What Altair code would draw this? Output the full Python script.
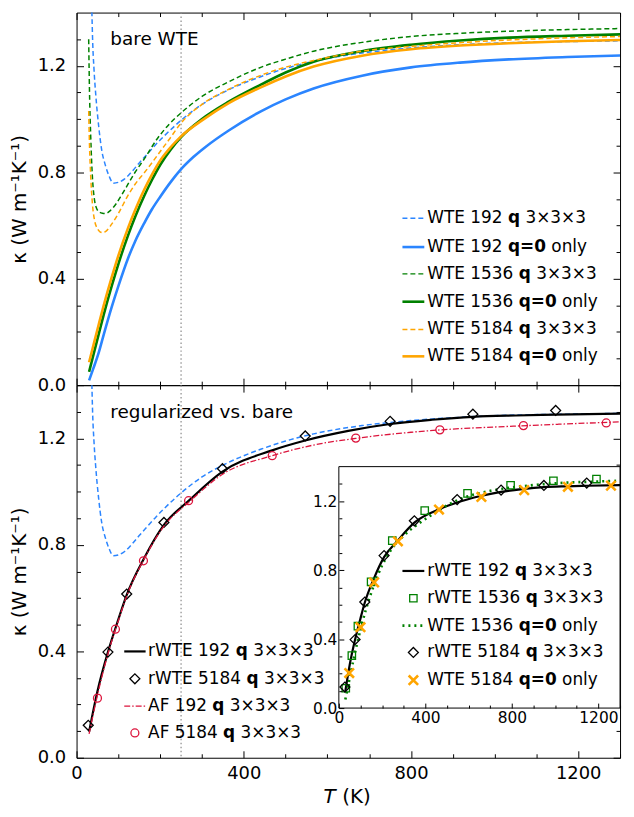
import altair as alt
import pandas as pd

# ---------------- data ----------------
# top panel: bare WTE
T_WTE192_Q = [30, 32, 35, 38, 42, 46, 53, 60, 69, 78, 88, 100, 115, 131, 150, 170, 190, 210, 250, 300,
              364, 442, 500, 567, 683, 800, 917, 1034, 1174, 1300]
K_WTE192_Q = [2.60, 2.00, 1.55, 1.32, 1.18, 1.09, 0.972, 0.885, 0.826, 0.785, 0.759, 0.762, 0.775, 0.800,
              0.835, 0.870, 0.905, 0.937, 0.995, 1.055, 1.110, 1.160, 1.190, 1.217, 1.248, 1.267, 1.279,
              1.287, 1.291, 1.294]
T_WTE192_0 = [30, 40, 53, 65, 84, 100, 123, 140, 162, 180, 201, 225, 248, 280, 310, 364, 442, 500, 567,
              683, 800, 917, 1034, 1174, 1300]
K_WTE192_0 = [0.018, 0.062, 0.122, 0.190, 0.293, 0.372, 0.476, 0.540, 0.609, 0.660, 0.710, 0.763, 0.808,
              0.858, 0.897, 0.957, 1.030, 1.074, 1.115, 1.163, 1.194, 1.212, 1.224, 1.233, 1.239]
T_WTE1536_Q = [29, 31, 34, 38, 42, 48, 55, 62, 69, 80, 92, 107, 123, 140, 162, 193, 220, 250, 300, 364,
               442, 500, 567, 683, 800, 917, 1034, 1174, 1300]
K_WTE1536_Q = [1.30, 1.10, 0.93, 0.78, 0.707, 0.664, 0.650, 0.646, 0.645, 0.655, 0.676, 0.712, 0.755,
               0.800, 0.850, 0.926, 0.978, 1.023, 1.085, 1.140, 1.195, 1.225, 1.255, 1.288, 1.310, 1.322,
               1.330, 1.336, 1.340]
T_WTE1536_0 = [30, 40, 53, 65, 84, 100, 123, 140, 162, 180, 201, 225, 250, 300, 364, 442, 500, 567, 683,
               800, 917, 1034, 1174, 1300]
K_WTE1536_0 = [0.050, 0.112, 0.192, 0.265, 0.372, 0.455, 0.562, 0.632, 0.712, 0.770, 0.830, 0.885, 0.932,
               1.000, 1.065, 1.130, 1.175, 1.215, 1.255, 1.279, 1.295, 1.306, 1.313, 1.318]
T_WTE5184_Q = [29, 31, 34, 38, 43, 50, 56, 62, 70, 84, 100, 123, 140, 162, 180, 201, 220, 250, 300, 364,
               442, 500, 567, 683, 800, 917, 1034, 1174, 1300]
K_WTE5184_Q = [1.03, 0.90, 0.78, 0.68, 0.62, 0.588, 0.576, 0.573, 0.578, 0.605, 0.645, 0.713, 0.755,
               0.798, 0.835, 0.880, 0.920, 0.985, 1.055, 1.112, 1.165, 1.195, 1.220, 1.255, 1.273, 1.287,
               1.297, 1.305, 1.310]
T_WTE5184_0 = [30, 40, 53, 65, 84, 100, 123, 140, 162, 180, 201, 225, 250, 300, 364, 442, 500, 567, 683,
               800, 917, 1034, 1174, 1300]
K_WTE5184_0 = [0.086, 0.148, 0.228, 0.300, 0.405, 0.487, 0.590, 0.657, 0.735, 0.790, 0.846, 0.894, 0.935,
               0.995, 1.060, 1.120, 1.160, 1.197, 1.238, 1.262, 1.276, 1.285, 1.292, 1.297]

# bottom panel: regularized vs bare
T_RWTE192 = [30, 50, 75, 100, 120, 160, 209, 270, 349, 468, 547, 650, 750, 850, 948, 1050, 1146, 1300]
K_RWTE192 = [0.098, 0.250, 0.397, 0.520, 0.612, 0.745, 0.875, 0.968, 1.075, 1.155, 1.192, 1.228, 1.254,
             1.270, 1.281, 1.286, 1.289, 1.293]
T_AF192 = [30, 50, 75, 100, 120, 160, 209, 270, 349, 468, 567, 668, 800, 900, 1034, 1150, 1300]
K_AF192 = [0.090, 0.235, 0.390, 0.515, 0.608, 0.742, 0.870, 0.962, 1.065, 1.135, 1.175, 1.200, 1.223,
           1.235, 1.245, 1.253, 1.262]
T_RWTE5184 = [28, 75, 120, 209, 349, 547, 750, 948, 1146]
K_RWTE5184 = [0.122, 0.397, 0.615, 0.884, 1.086, 1.209, 1.264, 1.291, 1.305]
T_AF5184 = [50, 93, 160, 268, 468, 668, 869, 1069, 1267]
K_AF5184 = [0.224, 0.483, 0.740, 0.966, 1.135, 1.201, 1.232, 1.248, 1.258]

# inset
T_RWTE1536 = [32, 60, 88, 149, 247, 397, 595, 794, 992, 1191]
K_RWTE1536 = [0.115, 0.304, 0.475, 0.732, 0.971, 1.145, 1.245, 1.292, 1.318, 1.328]
T_WTE5184_0_PTS = [48, 100, 163, 273, 463, 659, 857, 1059, 1258]
K_WTE5184_0_PTS = [0.203, 0.469, 0.729, 0.967, 1.151, 1.224, 1.264, 1.283, 1.290]

T_MARK = [250]

X_MAJOR = [0, 400, 800, 1200]
X_MINOR = [100, 200, 300, 500, 600, 700, 900, 1000, 1100, 1300]
Y_MAJOR = [0, 0.4, 0.8, 1.2]
Y_MINOR = [0.1, 0.2, 0.3, 0.5, 0.6, 0.7, 0.9, 1.0, 1.1, 1.3]

TOP_LEGEND = [("WTE 192", "q", "3×3×3"), ("WTE 192", "q=0", "only"),
              ("WTE 1536", "q", "3×3×3"), ("WTE 1536", "q=0", "only"),
              ("WTE 5184", "q", "3×3×3"), ("WTE 5184", "q=0", "only")]
BL_LEGEND = [("rWTE 192", "q", "3×3×3"), ("rWTE 5184", "q", "3×3×3"),
             ("AF 192", "q", "3×3×3"), ("AF 5184", "q", "3×3×3")]
IN_LEGEND = [("rWTE 192", "q", "3×3×3"), ("rWTE 1536", "q", "3×3×3"),
             ("WTE 1536", "q=0", "only"), ("rWTE 5184", "q", "3×3×3"),
             ("WTE 5184", "q=0", "only")]
Y_TITLE = "κ (W m⁻¹K⁻¹)"

# ---------------- layout / style ----------------
W, H = 547, 375
FONT = "DejaVu Sans"
BLUE, GREEN, ORANGE, RED = "#2b85ff", "#008000", "#ffa500", "#dc143c"
XDOM, YDOM = [0, 1300], [0, 1.4]
IN_X0, IN_Y0, IN_Y1 = 264, 82, 325
DASH = [5, 3]
XSHAPE = "M-1,-1L1,1M-1,1L1,-1"

REG = {' ': .318, '(': .390, ')': .390, '.': .318, '×': .838, '=': .838, 'A': .684, 'E': .632,
       'F': .575, 'K': .656, 'T': .611, 'W': .989, 'a': .613, 'b': .635, 'd': .635, 'e': .615,
       'g': .635, 'i': .278, 'l': .278, 'm': .974, 'n': .634, 'o': .612, 'q': .635, 'r': .411,
       's': .521, 'u': .634, 'v': .592, 'y': .592, 'z': .525}
BOLD = {' ': .348, 'q': .716, '0': .696, '=': .838}


def tw(s, table):
    return sum(table.get(c, 0.636) for c in s)


def sc(dom, rng=None):
    kw = dict(domain=dom, nice=False, zero=False)
    if rng is not None:
        kw["range"] = rng
    return alt.Scale(**kw)


MX, MY = sc(XDOM), sc(YDOM)
IX, IY = sc(XDOM, [IN_X0, W]), sc(YDOM, [IN_Y1, IN_Y0])
ONE = pd.DataFrame({"o": [0]})


def axis(orient, values, size, shift=0, labels=False, zindex=0, **kw):
    p = dict(orient=orient, values=values, tickSize=size, offset=-(size + shift), domain=False,
             grid=False, ticks=True, labels=labels, tickColor="black", tickWidth=1, title=None,
             zindex=zindex)
    if labels:
        p.update(labelFont=FONT, labelColor="black", labelFlush=False, labelOverlap=False)
    p.update(kw)
    return alt.Axis(**p)


def carrier(ax_x, ax_y, xs, ys):
    return alt.Chart(pd.DataFrame({"T": [XDOM[0]], "k": [YDOM[0]]})).mark_point(opacity=0).encode(
        x=alt.X("T:Q", scale=xs, axis=ax_x), y=alt.Y("k:Q", scale=ys, axis=ax_y))


def main_axes(xlabels):
    bx = dict(labelFontSize=18, labelPadding=7, format="d") if xlabels else {}
    pairs = [
        (axis("bottom", X_MAJOR, 7, labels=xlabels, **bx),
         axis("left", Y_MAJOR, 7, labels=True, labelFontSize=18, labelPadding=11, format=".1f",
              title=Y_TITLE, titleFont=FONT, titleFontSize=20, titleFontWeight="normal",
              titleColor="black", titlePadding=8)),
        (axis("bottom", X_MINOR, 4), axis("left", Y_MINOR, 4)),
        (axis("top", X_MAJOR, 7), axis("right", Y_MAJOR, 7)),
        (axis("top", X_MINOR, 4), axis("right", Y_MINOR, 4)),
    ]
    return [carrier(a, b, MX, MY) for a, b in pairs]


def inset_axes():
    sh = H - IN_Y1
    pairs = [
        (axis("bottom", X_MAJOR, 5, shift=sh, labels=True, zindex=1, labelFontSize=15.5,
              labelPadding=3, format="d"),
         axis("left", Y_MAJOR, 5, shift=IN_X0, labels=True, zindex=1, labelFontSize=15.5,
              labelPadding=2, format=".1f")),
        (axis("bottom", X_MINOR, 3, shift=sh, zindex=1),
         axis("left", Y_MINOR, 3, shift=IN_X0, zindex=1)),
    ]
    return [carrier(a, b, IX, IY) for a, b in pairs]


def curve(T, K, color, width, xs, ys, dash=None, clip=True):
    kw = dict(color=color, strokeWidth=width, clip=clip, interpolate="monotone")
    if dash:
        kw["strokeDash"] = dash
    return alt.Chart(pd.DataFrame({"T": T, "k": K})).mark_line(**kw).encode(
        x=alt.X("T:Q", scale=xs, axis=None), y=alt.Y("k:Q", scale=ys, axis=None))


def pts(T, K, shape, color, size, sw, xs, ys):
    return alt.Chart(pd.DataFrame({"T": T, "k": K})).mark_point(
        shape=shape, color=color, size=size, strokeWidth=sw, filled=False, opacity=1).encode(
        x=alt.X("T:Q", scale=xs, axis=None), y=alt.Y("k:Q", scale=ys, axis=None))


def vline(xs):
    return alt.Chart(pd.DataFrame({"T": T_MARK})).mark_rule(
        color="#8a8a8a", strokeWidth=1.2, strokeDash=[1.5, 2.5]).encode(
        x=alt.X("T:Q", scale=xs, axis=None))


def h_line(x0, x1, y, color, width, dash=None):
    kw = dict(color=color, strokeWidth=width)
    if dash:
        kw["strokeDash"] = dash
    return alt.Chart(ONE).mark_rule(**kw).encode(x=alt.value(x0), x2=alt.value(x1), y=alt.value(y))


def h_pt(x, y, shape, color, size, sw):
    return alt.Chart(ONE).mark_point(shape=shape, color=color, size=size, strokeWidth=sw,
                                     filled=False, opacity=1).encode(x=alt.value(x), y=alt.value(y))


def label(x, y, txt, fs, style="normal", align="left"):
    return alt.Chart(ONE).mark_text(text=txt, font=FONT, fontSize=fs, fontStyle=style, color="black",
                                    align=align, baseline="middle").encode(x=alt.value(x), y=alt.value(y))


def legend_text(entries, x0, ys, fs):
    rn, rb = [], []
    for (a, b, c), y in zip(entries, ys):
        x = x0
        rn.append({"px": x, "py": y, "t": a})
        x += (tw(a, REG) + REG[' ']) * fs
        rb.append({"px": x, "py": y, "t": b})
        x += (tw(b, BOLD) + REG[' ']) * fs
        rn.append({"px": x, "py": y, "t": c})
    out = []
    for rows, wt in ((rn, "normal"), (rb, "bold")):
        out.append(alt.Chart(pd.DataFrame(rows)).mark_text(
            align="left", baseline="middle", font=FONT, fontSize=fs, fontWeight=wt, color="black").encode(
            x=alt.X("px:Q", scale=None, axis=None), y=alt.Y("py:Q", scale=None, axis=None), text="t:N"))
    return out


LFS = 17

# ---------------- top panel ----------------
top_leg_y = [207, 236, 263, 291, 319, 346]
top_styles = [(BLUE, 1.5, DASH), (BLUE, 2.6, None), (GREEN, 1.5, DASH), (GREEN, 2.6, None),
              (ORANGE, 1.5, DASH), (ORANGE, 2.6, None)]
top_layers = [vline(MX)]
for (T, K), (c, w, d) in zip([(T_WTE192_Q, K_WTE192_Q), (T_WTE192_0, K_WTE192_0),
                              (T_WTE1536_Q, K_WTE1536_Q), (T_WTE1536_0, K_WTE1536_0),
                              (T_WTE5184_Q, K_WTE5184_Q), (T_WTE5184_0, K_WTE5184_0)], top_styles):
    top_layers.append(curve(T, K, c, w, MX, MY, d))
top_layers += main_axes(False)
top_layers.append(label(34, 27, "bare WTE", 18.5))
for y, (c, w, d) in zip(top_leg_y, top_styles):
    top_layers.append(h_line(328, 350, y, c, w, d))
top_layers += legend_text(TOP_LEGEND, 353, top_leg_y, LFS)

top = alt.layer(*top_layers).resolve_axis(x="independent", y="independent").properties(width=W, height=H)

# ---------------- bottom panel (main) ----------------
bl_y = [268, 295.5, 323, 350]
bm_layers = [
    vline(MX),
    curve(T_WTE192_Q, K_WTE192_Q, BLUE, 1.5, MX, MY, DASH),
    curve(T_RWTE192, K_RWTE192, "black", 2.2, MX, MY),
    pts(T_RWTE5184, K_RWTE5184, "diamond", "black", 100, 1.3, MX, MY),
    curve(T_AF192, K_AF192, RED, 1.3, MX, MY, [6, 2, 1.5, 2]),
    pts(T_AF5184, K_AF5184, "circle", RED, 64, 1.3, MX, MY),
]
bm_layers += main_axes(True)
bm_layers.append(label(34, 27, "regularized vs. bare", 18.5))
bm_layers += [
    h_line(48, 69.5, bl_y[0], "black", 2.2),
    h_pt(58.7, bl_y[1], "diamond", "black", 100, 1.3),
    h_line(48, 69.5, bl_y[2], RED, 1.3, [6, 2, 1.5, 2]),
    h_pt(58.7, bl_y[3], "circle", RED, 64, 1.3),
]
bm_layers += legend_text(BL_LEGEND, 72, bl_y, LFS)
bm_layers.append(label(248.5, H + 40, "T", 20, "italic"))
bm_layers.append(label(267.5, H + 40, "(K)", 20))
bottom_main = alt.layer(*bm_layers).resolve_axis(x="independent", y="independent")

# ---------------- inset ----------------
in_y = [187, 214.5, 242, 269, 297]
box = pd.DataFrame({"x0": [XDOM[0]], "x1": [XDOM[1]], "y0": [YDOM[0]], "y1": [YDOM[1]]})
in_layers = [
    alt.Chart(box).mark_rect(fill="white", stroke="black", strokeWidth=1).encode(
        x=alt.X("x0:Q", scale=IX, axis=None), x2="x1:Q",
        y=alt.Y("y0:Q", scale=IY, axis=None), y2="y1:Q"),
    curve(T_RWTE192, K_RWTE192, "black", 2.2, IX, IY, clip=False),
    pts(T_RWTE1536, K_RWTE1536, "square", GREEN, 55, 1.3, IX, IY),
    curve(T_WTE1536_0, K_WTE1536_0, GREEN, 2.6, IX, IY, [2, 4], clip=False),
    pts(T_RWTE5184, K_RWTE5184, "diamond", "black", 100, 1.3, IX, IY),
    pts(T_WTE5184_0_PTS, K_WTE5184_0_PTS, XSHAPE, ORANGE, 90, 2.6, IX, IY),
]
in_layers += inset_axes()
in_layers += [
    h_line(328, 350, in_y[0], "black", 2.2),
    h_pt(339, in_y[1], "square", GREEN, 55, 1.3),
    h_line(328, 350, in_y[2], GREEN, 2.6, [2, 4]),
    h_pt(339, in_y[3], "diamond", "black", 100, 1.3),
    h_pt(339, in_y[4], XSHAPE, ORANGE, 90, 2.6),
]
in_layers += legend_text(IN_LEGEND, 353, in_y, LFS)
inset = alt.layer(*in_layers).resolve_axis(x="independent", y="independent")

bottom = alt.layer(bottom_main, inset).resolve_scale(x="independent", y="independent").properties(
    width=W, height=H)

chart = alt.vconcat(top, bottom, spacing=0, bounds="flush").properties(
    padding={"left": 0, "top": 0, "right": 0, "bottom": 0}
).configure(font=FONT).configure_view(stroke="black", strokeWidth=1)

chart.save("out.html", embed_options={"renderer": "svg", "actions": False})
